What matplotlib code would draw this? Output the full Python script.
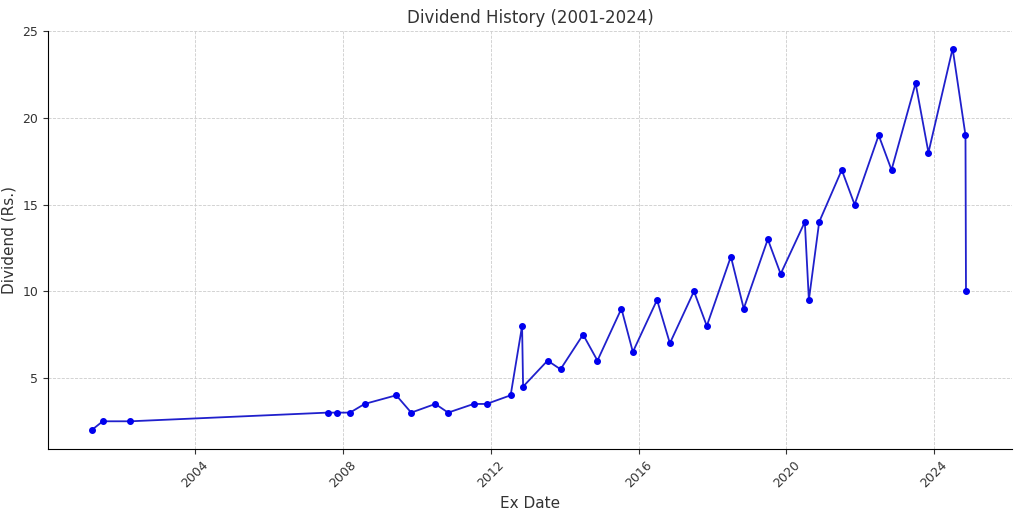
import pandas as pd
import matplotlib
matplotlib.use("Agg")
import matplotlib.pyplot as plt
import matplotlib.dates as mdates

ex_dates = ["2001-03-15", "2001-07-01", "2002-04-01", "2007-08-01", "2007-11-05",
            "2008-03-10", "2008-08-01", "2009-06-10", "2009-11-05", "2010-07-01",
            "2010-11-05", "2011-07-15", "2011-11-20", "2012-07-15", "2012-11-05",
            "2012-11-15", "2013-07-15", "2013-11-20", "2014-07-01", "2014-11-20",
            "2015-07-15", "2015-11-05", "2016-07-01", "2016-11-05", "2017-07-01",
            "2017-11-05", "2018-07-01", "2018-11-05", "2019-07-01", "2019-11-05",
            "2020-07-01", "2020-08-10", "2020-11-20", "2021-07-01", "2021-11-05",
            "2022-07-01", "2022-11-05", "2023-07-01", "2023-11-05", "2024-07-01",
            "2024-11-05", "2024-11-10"]
dividends = [2.0, 2.5, 2.5, 3.0, 3.0, 3.0, 3.5, 4.0, 3.0, 3.5,
             3.0, 3.5, 3.5, 4.0, 8.0, 4.5, 6.0, 5.5, 7.5, 6.0,
             9.0, 6.5, 9.5, 7.0, 10.0, 8.0, 12.0, 9.0, 13.0, 11.0,
             14.0, 9.5, 14.0, 17.0, 15.0, 19.0, 17.0, 22.0, 18.0, 24.0,
             19.0, 10.0]

dates = pd.to_datetime(ex_dates)

fig, ax = plt.subplots(figsize=(10.24, 5.12), dpi=100)
fig.subplots_adjust(left=0.047, right=0.988, top=0.939, bottom=0.123)
ax.plot(dates, dividends, color="#2020cc", marker="o", markersize=4,
        markerfacecolor="#0000ee", markeredgecolor="#0000ee", linewidth=1.3)
ax.set_title("Dividend History (2001-2024)", fontsize=12, color="#333333")
ax.set_xlabel("Ex Date", fontsize=11, color="#333333")
ax.set_ylabel("Dividend (Rs.)", fontsize=11, color="#333333")
ax.xaxis.set_major_locator(mdates.YearLocator(4))
ax.xaxis.set_major_formatter(mdates.DateFormatter("%Y"))
ax.set_yticks([5, 10, 15, 20, 25])
ax.set_ylim(0.9, 25.0)
ax.set_xlim(pd.Timestamp("2000-01-08"), pd.Timestamp("2026-02-05"))
ax.grid(True, linestyle="--", color="#cccccc", linewidth=0.6)
for lab in ax.get_xticklabels():
    lab.set_rotation(45)
ax.tick_params(labelsize=9, colors="#333333")
for s in ["top", "right"]:
    ax.spines[s].set_visible(False)
fig.savefig("out.png", dpi=100)
